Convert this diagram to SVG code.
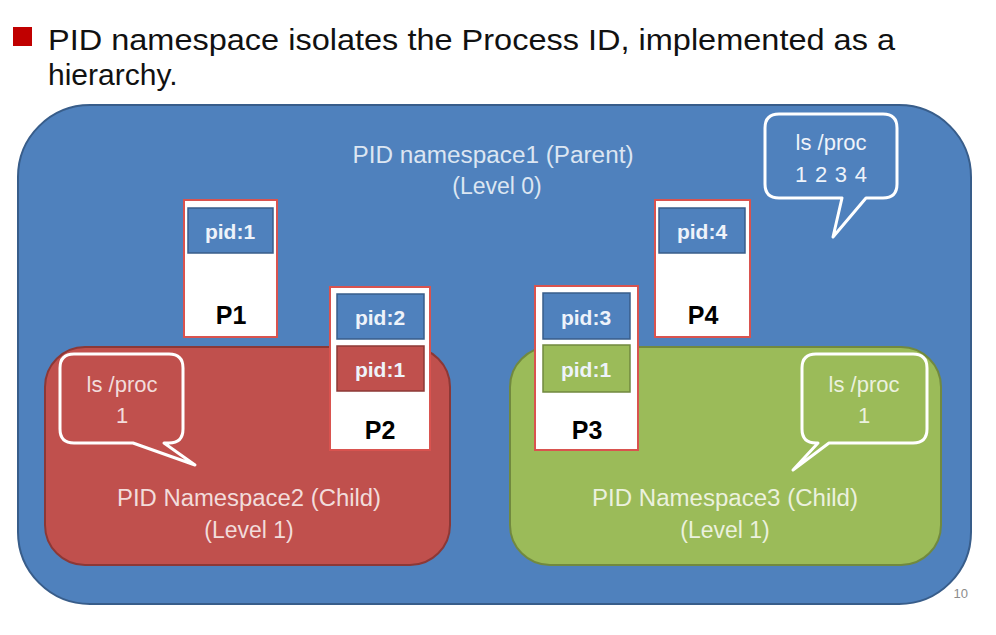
<svg xmlns="http://www.w3.org/2000/svg" width="996" height="635" viewBox="0 0 996 635">
<style>
text{font-family:"Liberation Sans",Arial,sans-serif}
.ns{font-size:23px;text-anchor:middle}
.pid{font-size:21px;font-weight:bold;fill:#eef3fa;text-anchor:middle}
.pn{font-size:25px;font-weight:bold;fill:#000;text-anchor:middle}
.box{fill:#fff;stroke:#d9534f;stroke-width:2}
.lb{fill:#4f81bd;stroke:#385d8a;stroke-width:1.5}
.lr{fill:#c0504d;stroke:#8c3836;stroke-width:1.5}
.lg{fill:#9bbb59;stroke:#71893f;stroke-width:1.5}
.call{stroke:#fff;stroke-width:3;stroke-linejoin:round}
.ct{font-size:22px;text-anchor:middle}
</style>
<rect width="996" height="635" fill="#fff"/>
<rect x="13" y="27" width="19" height="19" fill="#c00000"/>
<text x="48" y="50" font-size="30" fill="#111" textLength="847" lengthAdjust="spacingAndGlyphs">PID namespace isolates the Process ID, implemented as a</text>
<text x="48" y="85" font-size="30" fill="#111">hierarchy.</text>
<g id="ns1">
<rect x="18" y="105" width="953" height="499" rx="72" fill="#4f81bd" stroke="#385d8a" stroke-width="2"/>
<text class="ns" x="493" y="163" fill="#dce6f2" textLength="281" lengthAdjust="spacingAndGlyphs">PID namespace1 (Parent)</text>
<text class="ns" x="497" y="194" fill="#dce6f2">(Level 0)</text>
</g>
<g id="callout1">
<path class="call" fill="#4f81bd" d="M779,114 H883 Q897,114 897,128 V184 Q897,198 883,198 H866 L833,237 L842,198 H779 Q765,198 765,184 V128 Q765,114 779,114 Z"/>
<text class="ct" x="831" y="150" fill="#eef3fa">ls /proc</text>
<text class="ct" x="831" y="182" fill="#eef3fa" textLength="72" lengthAdjust="spacing">1 2 3 4</text>
</g>
<g id="ns2">
<rect x="45" y="347" width="405" height="218" rx="40" fill="#c0504d" stroke="#8c3836" stroke-width="2"/>
<text class="ns" x="249" y="506" fill="#f2dcdb" textLength="264" lengthAdjust="spacingAndGlyphs">PID Namespace2 (Child)</text>
<text class="ns" x="249" y="538" fill="#f2dcdb">(Level 1)</text>
</g>
<g id="ns3">
<rect x="510" y="347" width="431" height="218" rx="40" fill="#9bbb59" stroke="#71893f" stroke-width="2"/>
<text class="ns" x="725" y="506" fill="#ebf1de" textLength="266" lengthAdjust="spacingAndGlyphs">PID Namespace3 (Child)</text>
<text class="ns" x="725" y="538" fill="#ebf1de">(Level 1)</text>
</g>
<g id="callout2">
<path class="call" fill="#c0504d" d="M74,354 H169 Q183,354 183,368 V429 Q183,443 169,443 H164 L195,465 L133,443 H74 Q60,443 60,429 V368 Q60,354 74,354 Z"/>
<text class="ct" x="122" y="392" fill="#f2dcdb">ls /proc</text>
<text class="ct" x="122" y="423" fill="#f2dcdb">1</text>
</g>
<g id="callout3">
<path class="call" fill="#9bbb59" d="M816,354 H913 Q927,354 927,368 V429 Q927,443 913,443 H829 L793,470 L818,443 H816 Q802,443 802,429 V368 Q802,354 816,354 Z"/>
<text class="ct" x="864" y="392" fill="#ebf1de">ls /proc</text>
<text class="ct" x="864" y="423" fill="#ebf1de">1</text>
</g>
<g id="P1">
<rect class="box" x="184" y="200" width="93" height="137"/>
<rect class="lb" x="188" y="208" width="85" height="45"/>
<text class="pid" x="230" y="239">pid:1</text>
<text class="pn" x="231" y="324">P1</text>
</g>
<g id="P4">
<rect class="box" x="655" y="200" width="95" height="137"/>
<rect class="lb" x="659" y="208" width="86" height="45"/>
<text class="pid" x="702" y="239">pid:4</text>
<text class="pn" x="703" y="324">P4</text>
</g>
<g id="P2">
<rect class="box" x="330" y="287" width="100" height="163"/>
<rect class="lb" x="337" y="294" width="87" height="45"/>
<text class="pid" x="380" y="325">pid:2</text>
<rect class="lr" x="337" y="346" width="87" height="45"/>
<text class="pid" x="380" y="377" fill="#f7e4e3">pid:1</text>
<text class="pn" x="380" y="439">P2</text>
</g>
<g id="P3">
<rect class="box" x="535" y="286" width="103" height="164"/>
<rect class="lb" x="543" y="293" width="87" height="46"/>
<text class="pid" x="586" y="325">pid:3</text>
<rect class="lg" x="543" y="345" width="87" height="47"/>
<text class="pid" x="586" y="377">pid:1</text>
<text class="pn" x="587" y="439">P3</text>
</g>
<g id="connectors"></g>
<text x="968" y="598" font-size="13" fill="#8c8c8c" text-anchor="end">10</text>
</svg>
